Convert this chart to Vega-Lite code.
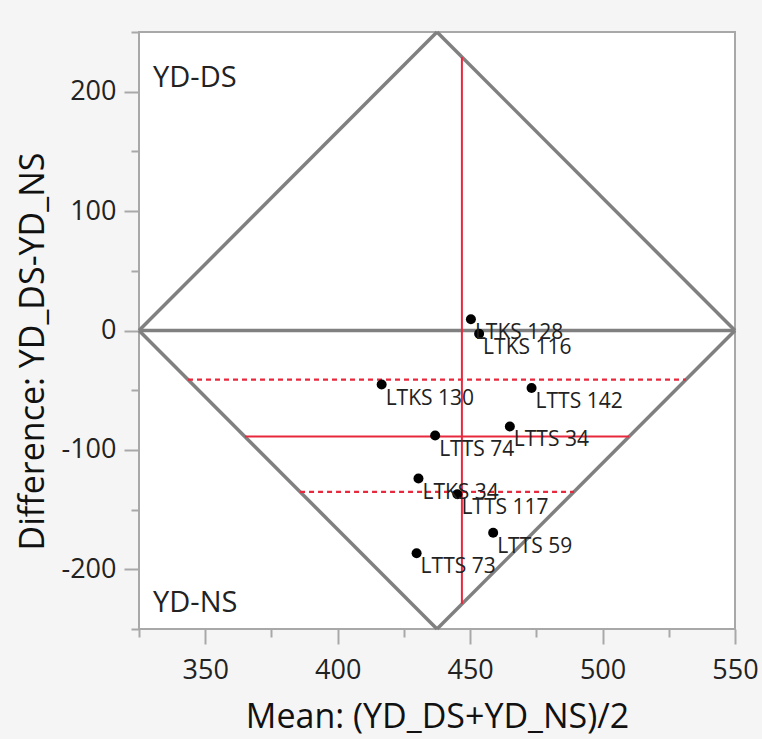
{
  "$schema": "https://vega.github.io/schema/vega-lite/v6.json",
  "width": 596,
  "height": 597,
  "autosize": {"type": "none"},
  "padding": {"left": 139, "top": 32, "right": 27, "bottom": 110},
  "background": "#f5f5f5",
  "view": {"fill": "white", "stroke": "#a8a8a8", "strokeWidth": 2},
  "config": {"font": "Open Sans"},
  "datasets": {
    "points": [
      {"name": "LTKS 128", "mean": 450.3, "diff": 9.4},
      {"name": "LTKS 116", "mean": 453.4, "diff": -2.7},
      {"name": "LTKS 130", "mean": 416.6, "diff": -45.3},
      {"name": "LTTS 142", "mean": 473.2, "diff": -48.2},
      {"name": "LTTS 74", "mean": 436.8, "diff": -88.0},
      {"name": "LTTS 34", "mean": 465.0, "diff": -80.4},
      {"name": "LTKS 34", "mean": 430.5, "diff": -124.0},
      {"name": "LTTS 117", "mean": 445.2, "diff": -137.1},
      {"name": "LTTS 59", "mean": 458.7, "diff": -169.4},
      {"name": "LTTS 73", "mean": 429.8, "diff": -186.5}
    ],
    "diamond": [
      {"x": 325, "y": 0, "x2": 437.5, "y2": 250},
      {"x": 437.5, "y": 250, "x2": 550, "y2": 0},
      {"x": 550, "y": 0, "x2": 437.5, "y2": -250},
      {"x": 437.5, "y": -250, "x2": 325, "y2": 0},
      {"x": 325, "y": 0, "x2": 550, "y2": 0}
    ],
    "meanlines": [
      {"x": 446.9, "y": -229.1, "x2": 446.9, "y2": 229.1},
      {"x": 365.0, "y": -88.8, "x2": 510.0, "y2": -88.8}
    ],
    "cilines": [
      {"x": 343.5, "y": -41.1, "x2": 531.5, "y2": -41.1},
      {"x": 385.8, "y": -135.2, "x2": 489.2, "y2": -135.2}
    ],
    "corners": [
      {"label": "YD-DS", "x": 330.3, "y": 204},
      {"label": "YD-NS", "x": 330.3, "y": -236}
    ]
  },
  "layer": [
    {
      "data": {"name": "diamond"},
      "mark": {"type": "rule", "color": "#808080", "strokeWidth": 3.5},
      "encoding": {
        "x": {
          "field": "x", "type": "quantitative",
          "scale": {"domain": [325, 550], "nice": false, "zero": false},
          "axis": {
            "values": [325, 350, 375, 400, 425, 450, 475, 500, 525, 550],
            "labelExpr": "datum.value % 50 === 0 ? '' + datum.value : ''",
            "tickSize": {"condition": {"test": "datum.value % 50 === 0", "value": 15}, "value": 8},
            "title": "Mean: (YD_DS+YD_NS)/2",
            "titleFontSize": 34, "titleFontWeight": "normal", "titleColor": "#111111",
            "titlePadding": 17,
            "labelFontSize": 27, "labelColor": "#222222", "labelPadding": 13,
            "labelFlush": false, "labelOverlap": false,
            "domain": false, "grid": false,
            "tickColor": "#a8a8a8", "tickWidth": 2
          }
        },
        "y": {
          "field": "y", "type": "quantitative",
          "scale": {"domain": [-250, 250], "nice": false, "zero": false},
          "axis": {
            "values": [-250, -200, -150, -100, -50, 0, 50, 100, 150, 200, 250],
            "labelExpr": "datum.value % 100 === 0 ? '' + datum.value : ''",
            "tickSize": {"condition": {"test": "datum.value % 100 === 0", "value": 15}, "value": 8},
            "title": "Difference: YD_DS-YD_NS",
            "titleFontSize": 34, "titleFontWeight": "normal", "titleColor": "#111111",
            "titlePadding": 10,
            "titleY": 319,
            "labelFontSize": 27, "labelColor": "#222222", "labelPadding": 8,
            "labelFlush": false, "labelOverlap": false,
            "domain": false, "grid": false,
            "tickColor": "#a8a8a8", "tickWidth": 2
          }
        },
        "x2": {"field": "x2"},
        "y2": {"field": "y2"}
      }
    },
    {
      "data": {"name": "meanlines"},
      "mark": {"type": "rule", "color": "#e8283c", "strokeWidth": 2},
      "encoding": {
        "x": {"field": "x", "type": "quantitative"},
        "y": {"field": "y", "type": "quantitative"},
        "x2": {"field": "x2"},
        "y2": {"field": "y2"}
      }
    },
    {
      "data": {"name": "cilines"},
      "mark": {"type": "rule", "color": "#e8283c", "strokeWidth": 2.2, "strokeDash": [5, 4]},
      "encoding": {
        "x": {"field": "x", "type": "quantitative"},
        "y": {"field": "y", "type": "quantitative"},
        "x2": {"field": "x2"},
        "y2": {"field": "y2"}
      }
    },
    {
      "data": {"name": "points"},
      "mark": {"type": "circle", "color": "#000000", "opacity": 1, "size": 100},
      "encoding": {
        "x": {"field": "mean", "type": "quantitative"},
        "y": {"field": "diff", "type": "quantitative"}
      }
    },
    {
      "data": {"name": "points"},
      "mark": {"type": "text", "align": "left", "baseline": "alphabetic", "dx": 4, "dy": 20, "fontSize": 21, "color": "#222222"},
      "encoding": {
        "x": {"field": "mean", "type": "quantitative"},
        "y": {"field": "diff", "type": "quantitative"},
        "text": {"field": "name"}
      }
    },
    {
      "data": {"name": "corners"},
      "mark": {"type": "text", "align": "left", "baseline": "alphabetic", "fontSize": 29, "color": "#222222"},
      "encoding": {
        "x": {"field": "x", "type": "quantitative"},
        "y": {"field": "y", "type": "quantitative"},
        "text": {"field": "label"}
      }
    }
  ]
}
